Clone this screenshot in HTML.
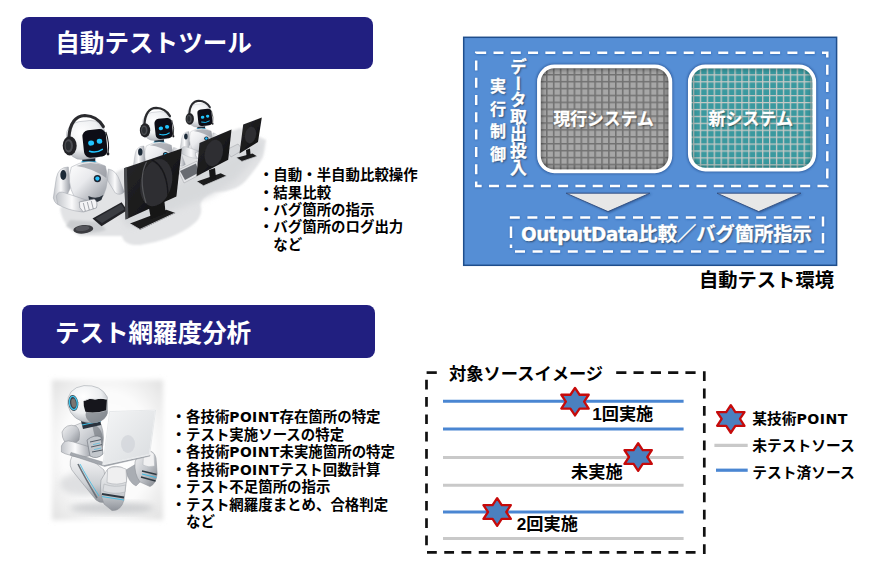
<!DOCTYPE html>
<html lang="ja">
<head>
<meta charset="utf-8">
<title>自動テストツール</title>
<style>
html,body{margin:0;padding:0;background:#fff;}
body{width:870px;height:566px;position:relative;overflow:hidden;font-family:"Liberation Sans","Noto Sans CJK JP",sans-serif;font-weight:bold;color:#000;}
.abs{position:absolute;white-space:nowrap;}
.banner{position:absolute;background:#211f80;border-radius:8px;color:#fff;font-size:24.6px;line-height:53.4px;height:52px;}
.banner span{position:absolute;left:34.2px;top:0;}
.list{position:absolute;font-size:14.45px;line-height:17.43px;white-space:nowrap;}
.list div{height:17.43px;}
svg{position:absolute;left:0;top:0;}
.lt{font-family:"DejaVu Sans","Liberation Sans",sans-serif;font-size:.96em;letter-spacing:.4px;}
.w{color:#fff;text-shadow:1px 1px 2px rgba(0,0,0,.5);-webkit-text-stroke:.3px #fff;}
</style>
</head>
<body>
<div class="banner" style="left:21px;top:17px;width:352px;"><span>自動テストツール</span></div>
<div class="banner" style="left:21.6px;top:305.2px;width:353px;height:52.4px;"><span style="top:1.4px;left:33.4px;letter-spacing:-.1px">テスト網羅度分析</span></div>

<svg id="gfx" width="870" height="566" viewBox="0 0 870 566">
<defs>
<pattern id="gridG" width="6.9" height="6.9" patternUnits="userSpaceOnUse" x="552.9" y="74">
<rect width="6.9" height="6.9" fill="#a7a7a7"/>
<path d="M0 0.8H6.9M0.8 0V6.9" stroke="#727272" stroke-width="1.6"/>
</pattern>
<pattern id="gridT" width="6.92" height="6.92" patternUnits="userSpaceOnUse" x="699.8" y="74.3">
<rect width="6.92" height="6.92" fill="#3a999f"/>
<path d="M0 0.65H6.92M0.65 0V6.92" stroke="#c9cac6" stroke-width="1.3"/>
</pattern>
<filter id="sh" x="-20%" y="-20%" width="140%" height="140%"><feGaussianBlur stdDeviation="1.3"/></filter>
<filter id="shd" x="-5%" y="-5%" width="110%" height="110%"><feGaussianBlur stdDeviation=".9"/></filter>
<filter id="sh2" x="-20%" y="-20%" width="140%" height="140%"><feGaussianBlur stdDeviation="2"/></filter>
<clipPath id="cG"><rect x="540.8" y="68.3" width="127.7" height="101" rx="13"/></clipPath>
<clipPath id="cT"><rect x="691.7" y="68.3" width="120.7" height="99.4" rx="13"/></clipPath>
</defs>


<!-- robots at desks illustration -->
<defs>
<linearGradient id="gBody" x1="0" y1="0" x2="1" y2="1">
<stop offset="0" stop-color="#ffffff"/><stop offset=".45" stop-color="#e9eaed"/><stop offset="1" stop-color="#8f949c"/>
</linearGradient>
<linearGradient id="gArm" x1="0" y1="0" x2="1" y2="0">
<stop offset="0" stop-color="#c2c5ca"/><stop offset=".45" stop-color="#fbfbfc"/><stop offset="1" stop-color="#9a9ea6"/>
</linearGradient>
<radialGradient id="gHead" cx=".4" cy=".3" r=".8">
<stop offset="0" stop-color="#ffffff"/><stop offset=".55" stop-color="#eceef0"/><stop offset="1" stop-color="#9da1a9"/>
</radialGradient>
<linearGradient id="gMon" x1="0" y1="0" x2="1" y2="1">
<stop offset="0" stop-color="#2a2a2c"/><stop offset="1" stop-color="#0c0c0d"/>
</linearGradient>
<filter id="soft" x="-5%" y="-5%" width="110%" height="110%"><feGaussianBlur stdDeviation=".45"/></filter>
<filter id="blob" x="-10%" y="-20%" width="120%" height="140%"><feGaussianBlur stdDeviation="3"/></filter>
<filter id="blob1" x="-10%" y="-20%" width="120%" height="140%"><feGaussianBlur stdDeviation="1.3"/></filter>
<g id="robot">
<!-- arms behind -->
<path d="M22 29Q30 30 34 42L38 52Q34 56 29 53L21 40Z" fill="url(#gArm)" stroke="#9fa3aa" stroke-width=".5"/>
<path d="M-18 27Q-28 27 -30 38L-33 58Q-31 66 -24 65L-16 48Z" fill="url(#gArm)" stroke="#9fa3aa" stroke-width=".5"/>
<ellipse cx="-23" cy="35" rx="3" ry="5" fill="#1d2a38"/>
<!-- neck -->
<rect x="-4" y="17" width="13" height="8" fill="#1c2632"/>
<path d="M-5 22H10" stroke="#25b7ee" stroke-width="1.2"/>
<!-- torso -->
<path d="M-15 27Q2 17 19 26Q24 40 17 56Q3 63 -12 57Q-20 42 -15 27Z" fill="url(#gBody)" stroke="#a5a9b0" stroke-width=".5"/>
<path d="M-10 26Q4 20 19 26Q21 32 20 38Q6 28 -10 26Z" fill="#7d828b" opacity=".55"/>
<path d="M2 56Q10 60 17 55L15 60Q9 64 3 61Z" fill="#2a313b"/>
<circle cx="11.1" cy="38.6" r="3.6" fill="#1a2430"/>
<circle cx="11.1" cy="38.6" r="2.1" fill="#27c2ff"/>
<!-- forearm + hand -->
<path d="M-30 56Q-28 50 -21 53L0 60Q6 63 4 68L-4 72Q-20 70 -29 64Z" fill="url(#gArm)" stroke="#9fa3aa" stroke-width=".5"/>
<path d="M-7 62L8 59Q12 62 10 68L-3 72Q-8 68 -7 62Z" fill="#f4f4f6" stroke="#7e838b" stroke-width=".6"/>
<path d="M-3 63L-1 71M1 62L3 70M5 61L7 69" stroke="#6b7078" stroke-width=".6"/>
<!-- head -->
<g transform="rotate(-6)">
<rect x="-19.5" y="-19" width="39" height="38" rx="14" fill="url(#gHead)" stroke="#a5a9b0" stroke-width=".5"/>
<rect x="-3.5" y="-9.5" width="23.5" height="27.5" rx="6" fill="#0b0d12"/>
<ellipse cx="4.5" cy="3.6" rx="3" ry="2.5" fill="#21c4ff"/>
<ellipse cx="13" cy="2.6" rx="2.8" ry="2.5" fill="#21c4ff"/>
<path d="M2 11.5Q8.5 14.5 15 11" fill="none" stroke="#21c4ff" stroke-width="1.5" stroke-linecap="round"/>
</g>
<!-- headphones -->
<path d="M-17.5 -2Q-16 -24 -1.5 -24.5Q11 -24 17 -13.5" fill="none" stroke="#2a2b2e" stroke-width="3.2" stroke-linecap="round"/>
<ellipse cx="-16.6" cy="5.8" rx="7" ry="9.6" fill="#232427"/>
<ellipse cx="-17.6" cy="5.8" rx="4.3" ry="6.6" fill="#4b4d52"/>
<ellipse cx="-18" cy="5.8" rx="2.6" ry="4.6" fill="#2c2d31"/>
<path d="M19.5 -8Q23.5 3 21.7 13.5" fill="none" stroke="#1e1f22" stroke-width="1.1"/>
<circle cx="21.7" cy="14" r="1.4" fill="#1e1f22"/>
</g>
</defs>
<g filter="url(#soft)">
<!-- floor shadow -->
<path d="M60 208Q62 226 80 236L122 236Q124 246 140 245Q172 240 191 226Q203 218 201 207Q198 199 214 192Q238 192 248 178Q258 166 263 157L266 140L240 128L120 170Z" fill="#e2e3e5" filter="url(#blob1)"/>
<path d="M128 228L176 210L212 196L236 180L262 150L262 140L200 170L120 215Z" fill="#d3d5d8" opacity=".7" filter="url(#blob)"/>
<path d="M66 226Q84 238 106 230L100 222L70 220Z" fill="#c5c7ca" opacity=".8" filter="url(#blob1)"/>
<!-- robot 3 + desk 3 -->
<use href="#robot" transform="translate(199.7 115.4) scale(.6)"/>
<path d="M226 150L238 144L243 150L231 157Z" fill="#d6d8db" stroke="#8d9096" stroke-width=".4"/>
<path d="M236.6 157.8L252.5 153.4L257 156.3L241.9 161.4Z" fill="#1b1b1d"/>
<path d="M236.6 157.8L241.9 161.4L257 156.3" fill="none" stroke="#c9cbce" stroke-width=".7"/>
<path d="M246 150L250 148.6L250.6 155L246.6 156.4Z" fill="#151516"/>
<path d="M243.2 124.5L261.8 117.6L258 142L239.5 153.6Z" fill="url(#gMon)"/>
<ellipse cx="250.5" cy="135" rx="5.5" ry="8.5" fill="#2d2d30" transform="rotate(12 250.5 135)"/>

<!-- robot 2 + desk 2 -->
<use href="#robot" transform="translate(157.3 126) scale(.74)"/>
<path d="M178 170L197 161L201 174L184 183Z" fill="#e4e5e8" stroke="#8d9096" stroke-width=".4"/>
<path d="M180 171L196 163.5L199 172.5L185 180Z" fill="#4a4d54" opacity=".8"/>
<path d="M196.9 181.6L220.7 173.3L226.4 176L203.5 185.8Z" fill="#1b1b1d"/>
<path d="M196.9 181.6L203.5 185.8L226.4 176" fill="none" stroke="#c9cbce" stroke-width=".8"/>
<path d="M209 170L215 168L216 178L210 180Z" fill="#151516"/>
<path d="M199.5 143L231.5 129.6L228.2 159.8L196.5 176.3Z" fill="url(#gMon)"/>
<ellipse cx="213.8" cy="153" rx="9" ry="13.5" fill="#2d2d30" transform="rotate(14 213.8 153)"/>

<!-- robot 1 + desk 1 -->
<use href="#robot" transform="translate(86.3 140)"/>
<path d="M92.5 218.5L121.6 202.2L127.2 210.2L101.5 226.2Z" fill="#232428"/>
<path d="M95.5 218.5L121 204L124.6 209.2L102 223Z" fill="#3a3c42"/>
<ellipse cx="83.3" cy="229.3" rx="10" ry="4.3" fill="#3a3b3f" transform="rotate(-6 83.3 229.3)"/>
<ellipse cx="82.5" cy="228.4" rx="7" ry="2.6" fill="#55575c" transform="rotate(-6 82.5 228.4)"/>
<path d="M130 223.6L166.4 209.8L175.4 213L140.2 229.8Z" fill="#1b1b1d"/>
<path d="M130.6 224L139.9 229.4L174.6 213.2" fill="none" stroke="#c9cbce" stroke-width=".9"/>
<path d="M148 203L164 197.4L165.6 213L151 219Z" fill="#141415"/>
<path d="M124 168.2L181.8 148.6L176.4 196.4L125.6 219.6Z" fill="url(#gMon)"/>
<path d="M124 168.2L125.6 219.6L128.4 218.3L126.8 167.3Z" fill="#4a4b4f"/>
<ellipse cx="156.2" cy="182.6" rx="15.5" ry="24" fill="#2e2e31" transform="rotate(14 156.2 182.6)"/>
<path d="M146.5 162Q138 178 146 203" fill="none" stroke="#55565a" stroke-width="1.2"/>
<path d="M152 160Q168 168 168 198" fill="none" stroke="#19191b" stroke-width="1.4"/>
</g>


<!-- sitting robot with laptop -->
<defs>
<radialGradient id="vig" cx=".5" cy=".5" r=".75">
<stop offset="0" stop-color="#ffffff"/><stop offset=".55" stop-color="#fbfbfb"/><stop offset="1" stop-color="#dcdcdc"/>
</radialGradient>
<linearGradient id="gLap" x1="0" y1="0" x2="1" y2="1">
<stop offset="0" stop-color="#f4f5f6"/><stop offset="1" stop-color="#d9dcdf"/>
</linearGradient>
<linearGradient id="gB2" x1="0" y1="0" x2="1" y2="1">
<stop offset="0" stop-color="#f4f4f5"/><stop offset=".5" stop-color="#c6c9ce"/><stop offset="1" stop-color="#80848b"/>
</linearGradient>
<linearGradient id="gB3" x1="0" y1="0" x2="0" y2="1">
<stop offset="0" stop-color="#f6f6f7"/><stop offset=".6" stop-color="#cdd0d4"/><stop offset="1" stop-color="#8f939a"/>
</linearGradient>
<filter id="edge" x="-10%" y="-10%" width="120%" height="120%"><feGaussianBlur stdDeviation="2.5"/></filter>
</defs>
<g filter="url(#soft)">
<rect x="52" y="380" width="111" height="140" fill="url(#vig)" filter="url(#edge)"/>
<!-- ground shadow -->
<ellipse cx="112" cy="508" rx="42" ry="6" fill="#bdbfc2" opacity=".7" filter="url(#blob)"/>
<ellipse cx="84" cy="484" rx="24" ry="12" fill="#c9cbce" opacity=".55" filter="url(#blob)"/>
<!-- far thigh + far foot -->
<path d="M126 470L146 458L152 470L136 486Q128 482 126 470Z" fill="#a9adb3" stroke="#858990" stroke-width=".4"/>
<path d="M135 462Q138 452 146 450.5Q154 450 156 458L157.2 474Q156 484 150 486.6L140 482Q134 474 135 462Z" fill="url(#gB2)" stroke="#888c93" stroke-width=".5"/>
<path d="M143.6 452Q150 449.5 154 454L154.6 466Q148 468 143 465Z" fill="#f1f1f2" stroke="#a4a8ae" stroke-width=".4"/>
<path d="M142 471L156.6 474.6M141 477L155.6 481" stroke="#2f3841" stroke-width="1.5"/>
<path d="M142 474L156.4 477.6" stroke="#3dbbe4" stroke-width="1"/>
<!-- torso -->
<path d="M74 426Q86 419 101 424Q106 438 101 452Q88 458 73 452Q70 438 74 426Z" fill="url(#gB2)" stroke="#8c9097" stroke-width=".5"/>
<path d="M92 424Q102 426 103 440L100 452Q95 440 92 424Z" fill="#6f747c" opacity=".6"/>
<!-- hips / near thigh -->
<path d="M72 456Q67 466 75 474L96 500Q104 506 108 498L104 470L92 460Z" fill="url(#gB3)" stroke="#888c93" stroke-width=".5"/>
<path d="M78 464Q84 476 97 498" stroke="#6c7178" stroke-width="1.6" fill="none"/>
<path d="M80 464Q86 476 99 496" stroke="#3dbbe4" stroke-width=".8" fill="none"/>
<!-- neck -->
<path d="M81 421L100 417L101 425L83 429Z" fill="#2a323c"/>
<path d="M82 425L101 421" stroke="#3dbbe4" stroke-width="1.1"/>
<!-- head -->
<path d="M67.7 405Q66.5 388 84 385.6Q101 384.6 107.3 397L107.6 413Q104 423 91 423Q72 422 67.7 405Z" fill="url(#gHead)" stroke="#959aa1" stroke-width=".5"/>
<path d="M86 412Q97 414 107.4 410.5L107 415Q103 423 91 423Q84 418 86 412Z" fill="#7f848b" opacity=".8"/>
<path d="M83.6 401Q90 397.5 95 399.6Q101 398 106.9 399.6L106.2 410.2Q96 413.6 85.4 411.8Q83.2 406 83.6 401Z" fill="#16181c"/>
<path d="M84.4 400.6Q90 397 95 399Q101 397.4 106.6 399" stroke="#e9ebee" stroke-width="1" fill="none"/>
<ellipse cx="73.3" cy="403" rx="5" ry="8" fill="#39424c" transform="rotate(-8 73.3 403)"/>
<ellipse cx="73.3" cy="403" rx="3.9" ry="6.6" fill="none" stroke="#3fc3ea" stroke-width="1.3" transform="rotate(-8 73.3 403)"/>
<ellipse cx="73.6" cy="403" rx="2.3" ry="4.6" fill="#7a7470" transform="rotate(-8 73.6 403)"/>
<!-- shoulder, upper arm + forearm -->
<path d="M62 432Q66 423 76 426Q81 430 79 440L72 446Q62 444 62 432Z" fill="url(#gB2)" stroke="#888c93" stroke-width=".5"/>
<path d="M61.4 446Q64 439 72 441.6L90 447Q93.6 451 91 455.6L84 457Q68 456 61.4 452Z" fill="url(#gArm)" stroke="#888c93" stroke-width=".5"/>
<path d="M87 440Q94 434 101 437L103 454Q97 460 90 456Z" fill="#c3c7cc" stroke="#6d727a" stroke-width=".6"/>
<path d="M90 442L101 439.6M91 447L102 444.6M92 452L102.6 450" stroke="#47505a" stroke-width=".9"/>
<path d="M93 444.6L100 443M94 449.6L101 448" stroke="#3dbbe4" stroke-width=".6"/>
<!-- laptop base -->
<path d="M70 455L104.6 466.4L150 456L149.4 453L104.6 462.6L71 452.4Z" fill="#a4a8ae" stroke="#82868d" stroke-width=".4"/>
<!-- laptop screen -->
<path d="M109.6 411.6L155.7 410L149.6 454.6L103 464.6Z" fill="url(#gLap)" stroke="#ffffff" stroke-width="1.2" stroke-linejoin="round"/>
<path d="M109.6 411.6L155.7 410L149.6 454.6L103 464.6Z" fill="none" stroke="#c0c4c9" stroke-width=".4"/>
<ellipse cx="128" cy="444" rx="7" ry="9" fill="#d0d3d8" opacity=".7"/>
<!-- near foot sole -->
<path d="M101 480L107 470Q110 466 117 466.4Q127 467 127 476L124 500Q121 511 112 510.6L104 504Q99 492 101 480Z" fill="url(#gB3)" stroke="#888c93" stroke-width=".5"/>
<path d="M107.6 469Q116 464.6 126 469L126.6 482Q117 486 107 482.6Z" fill="#efeff0" stroke="#a0a4aa" stroke-width=".5"/>
<path d="M104 484Q114 488 125.6 485L125 492Q114 495 103 491Z" fill="#dcdee1" stroke="#9b9fa5" stroke-width=".4"/>
<path d="M102 494L124 497.6" stroke="#2f3841" stroke-width="2"/>
<path d="M102 496.6L124 500" stroke="#3dbbe4" stroke-width=".9"/>
</g>

<!-- blue environment box -->
<rect x="463.7" y="37.3" width="372.9" height="228" fill="#558ed5" stroke="#1f4e8c" stroke-width="1.5"/>
<g opacity=".6" filter="url(#shd)" transform="translate(.3 .4)">
<rect x="476.2" y="52.8" width="351.1" height="133.2" fill="none" stroke="#1c4a94" stroke-width="2.5" stroke-dasharray="10 7.29"/>
<g fill="none" stroke="#1c4a94" stroke-width="2.5">
<path d="M509.8 217.6H815" stroke-dasharray="10 7.6"/>
<path d="M823 216.4V226.6M823 233V243.6"/>
<path d="M824.2 251.6H511V244.5" stroke-dasharray="10 7.6"/>
<path d="M511 226.5V238"/>
</g>

</g>
<rect x="476.2" y="52.8" width="351.1" height="133.2" fill="none" stroke="#fff" stroke-width="2.5" stroke-dasharray="10 7.29"/>
<g fill="none" stroke="#fff" stroke-width="2.5">
<path d="M509.8 217.6H815" stroke-dasharray="10 7.6"/>
<path d="M823 216.4V226.6M823 233V243.6"/>
<path d="M824.2 251.6H511V244.5" stroke-dasharray="10 7.6"/>
<path d="M511 226.5V238"/>
</g>

<!-- system boxes -->
<rect x="538.9" y="66.4" width="131.5" height="104.9" rx="15.5" fill="none" stroke="#173a78" stroke-width="5.5" opacity=".55" filter="url(#sh)"/>
<rect x="538.9" y="66.4" width="131.5" height="104.9" rx="15.5" fill="url(#gridG)"/>
<g clip-path="url(#cG)"><rect x="538.9" y="66.4" width="131.5" height="104.9" rx="15.5" fill="none" stroke="#000" stroke-width="6" opacity=".45" filter="url(#sh2)"/></g>
<rect x="538.9" y="66.4" width="131.5" height="104.9" rx="15.5" fill="none" stroke="#fff" stroke-width="3.7"/>

<rect x="689.8" y="66.4" width="124.5" height="103.2" rx="15.5" fill="none" stroke="#173a78" stroke-width="5.5" opacity=".55" filter="url(#sh)"/>
<rect x="689.8" y="66.4" width="124.5" height="103.2" rx="15.5" fill="url(#gridT)"/>
<g clip-path="url(#cT)"><rect x="689.8" y="66.4" width="124.5" height="103.2" rx="15.5" fill="none" stroke="#003a3a" stroke-width="6" opacity=".45" filter="url(#sh2)"/></g>
<rect x="689.8" y="66.4" width="124.5" height="103.2" rx="15.5" fill="none" stroke="#fff" stroke-width="3.7"/>

<!-- arrows -->
<path d="M567 193.8H652L609 213Z" fill="#17376e" opacity=".55" filter="url(#sh)"/>
<path d="M566.1 193.2H649.9L608 211.6Z" fill="#e7e7e7" stroke="#2f4d80" stroke-width=".9" stroke-linejoin="round"/>
<path d="M718 193.8H803L760 213Z" fill="#17376e" opacity=".55" filter="url(#sh)"/>
<path d="M717 193.2H801L758.7 211.6Z" fill="#e7e7e7" stroke="#2f4d80" stroke-width=".9" stroke-linejoin="round"/>

<!-- coverage box -->
<g fill="none" stroke="#111" stroke-width="2.7">
<path d="M704.3 371.3V554" stroke-dasharray="9.8 7.5"/>
<path d="M427 552.4H700" stroke-dasharray="9.8 7.45"/>
<path d="M426.5 379.8V546" stroke-dasharray="9.7 7.6"/>
<path d="M426.6 372.6H436.8"/>
<path d="M616.2 372.6H697" stroke-dasharray="10.2 7.1"/>
</g>
<g stroke-width="3" fill="none">
<path d="M443 401.2H683.6M443 429H683.6M443 511.9H683.6" stroke="#4a86d2"/>
<path d="M443 457.5H683.6M443 485.3H683.6M443 538.4H683.6" stroke="#c9c9c9"/>
</g>
<g id="stars" fill="#4b80bf" stroke="#c60a0a" stroke-width="2.3" stroke-linejoin="round">
<path d="M0.00 -13.80L4.57 -6.90L13.70 -6.90L9.13 0.00L13.70 6.90L4.57 6.90L0.00 13.80L-4.57 6.90L-13.70 6.90L-9.13 0.00L-13.70 -6.90L-4.57 -6.90Z" transform="translate(575 401.65)"/>
<path d="M0.00 -13.80L4.57 -6.90L13.70 -6.90L9.13 0.00L13.70 6.90L4.57 6.90L0.00 13.80L-4.57 6.90L-13.70 6.90L-9.13 0.00L-13.70 -6.90L-4.57 -6.90Z" transform="translate(638.15 457)"/>
<path d="M0.00 -13.80L4.57 -6.90L13.70 -6.90L9.13 0.00L13.70 6.90L4.57 6.90L0.00 13.80L-4.57 6.90L-13.70 6.90L-9.13 0.00L-13.70 -6.90L-4.57 -6.90Z" transform="translate(497.15 512)"/>
<path d="M0.00 -13.80L4.57 -6.90L13.70 -6.90L9.13 0.00L13.70 6.90L4.57 6.90L0.00 13.80L-4.57 6.90L-13.70 6.90L-9.13 0.00L-13.70 -6.90L-4.57 -6.90Z" transform="translate(730.8 418.95)"/>
</g>
<path d="M714.4 445.4H747.7" stroke="#c9c9c9" stroke-width="3.2"/>
<path d="M716 470.2H747.7" stroke="#4a86d2" stroke-width="3.2"/>
</svg>

<!-- diagram text -->
<div class="abs w" style="left:553.5px;top:108px;font-size:16.8px;line-height:24px;">現行システム</div>
<div class="abs w" style="left:708.5px;top:108px;font-size:17px;line-height:24px;">新システム</div>
<div class="abs w" style="left:520.9px;top:220.9px;font-size:19.3px;line-height:28px;"><span class="lt" style="letter-spacing:-0.48px">OutputData</span>比較／バグ箇所指示</div>
<div class="abs w" style="left:507.5px;top:58px;width:18px;font-size:16.8px;line-height:17px;writing-mode:vertical-rl;text-orientation:upright;white-space:nowrap;">データ取出投入</div>
<div class="abs w" style="left:488px;top:77.5px;width:17px;font-size:16px;line-height:17px;letter-spacing:6.6px;writing-mode:vertical-rl;text-orientation:upright;">実行制御</div>
<div class="abs" style="left:699px;top:266.9px;font-size:19.3px;line-height:28px;">自動テスト環境</div>

<div class="abs" style="left:449px;top:361.6px;font-size:17.25px;line-height:24px;">対象ソースイメージ</div>
<div class="abs" style="left:592.2px;top:401.9px;font-size:17.2px;line-height:24px;">1回実施</div>
<div class="abs" style="left:571px;top:459.5px;font-size:17.2px;line-height:24px;">未実施</div>
<div class="abs" style="left:516.8px;top:511.9px;font-size:17.2px;line-height:24px;">2回実施</div>
<div class="abs" style="left:752.3px;top:409px;font-size:14.75px;line-height:20px;">某技術<span class="lt">POINT</span></div>
<div class="abs" style="left:752.3px;top:436px;font-size:14.75px;line-height:20px;">未テストソース</div>
<div class="abs" style="left:752.3px;top:463.1px;font-size:14.75px;line-height:20px;">テスト済ソース</div>

<!-- bullet lists -->
<div class="list" style="left:258.9px;top:167.1px;">
<div>・自動・半自動比較操作</div>
<div>・結果比較</div>
<div>・バグ箇所の指示</div>
<div>・バグ箇所のログ出力</div>
<div>　など</div>
</div>
<div class="list" style="left:171.6px;top:409.4px;">
<div>・各技術<span class="lt">POINT</span>存在箇所の特定</div>
<div>・テスト実施ソースの特定</div>
<div>・各技術<span class="lt">POINT</span>未実施箇所の特定</div>
<div>・各技術<span class="lt">POINT</span>テスト回数計算</div>
<div>・テスト不足箇所の指示</div>
<div>・テスト網羅度まとめ、合格判定</div>
<div>　など</div>
</div>
</body>
</html>
